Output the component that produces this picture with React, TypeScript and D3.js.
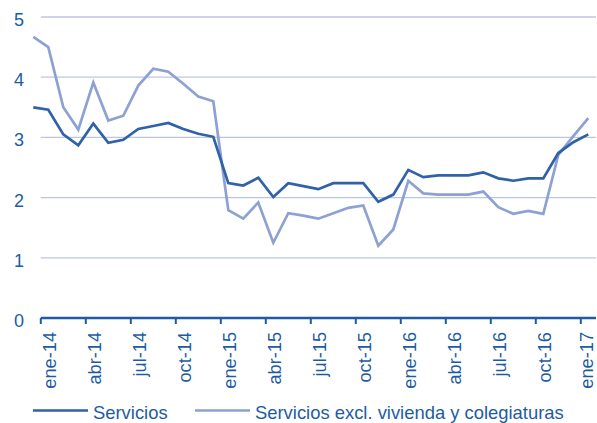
import React from "react";
import * as d3 from "d3";

const months = [
  "dic-13",
  "ene-14", "feb-14", "mar-14", "abr-14", "may-14", "jun-14", "jul-14", "ago-14", "sep-14", "oct-14", "nov-14", "dic-14",
  "ene-15", "feb-15", "mar-15", "abr-15", "may-15", "jun-15", "jul-15", "ago-15", "sep-15", "oct-15", "nov-15", "dic-15",
  "ene-16", "feb-16", "mar-16", "abr-16", "may-16", "jun-16", "jul-16", "ago-16", "sep-16", "oct-16", "nov-16", "dic-16",
  "ene-17",
];

const tickLabels = [
  "ene-14", "abr-14", "jul-14", "oct-14", "ene-15", "abr-15", "jul-15",
  "oct-15", "ene-16", "abr-16", "jul-16", "oct-16", "ene-17",
];

const yTicks = [0, 1, 2, 3, 4, 5];

const servicios = [
  3.5,
  3.46, 3.05, 2.87, 3.23, 2.91, 2.96, 3.14, 3.19, 3.24, 3.14, 3.06, 3.01,
  2.24, 2.2, 2.33, 2.01, 2.24, 2.19, 2.14, 2.24, 2.24, 2.24, 1.93, 2.05,
  2.46, 2.34, 2.37, 2.37, 2.37, 2.42, 2.32, 2.28, 2.32, 2.32, 2.74, 2.92,
  3.05,
];

const serviciosExcl = [
  4.67,
  4.5, 3.5, 3.13, 3.91, 3.28, 3.36, 3.86, 4.14, 4.09, 3.89, 3.68, 3.6,
  1.79, 1.65, 1.92, 1.25, 1.74, 1.7, 1.65, 1.74, 1.83, 1.87, 1.2, 1.47,
  2.28, 2.07, 2.05, 2.05, 2.05, 2.1, 1.84, 1.73, 1.78, 1.73, 2.71, 3.02,
  3.32,
];

const seriesNames = ["Servicios", "Servicios excl. vivienda y colegiaturas"];

const W = 597;
const H = 423;
const TEXT = "#1d5ca4";
const DARK = "#2f62a6";
const LIGHT = "#8da1d2";
const GRID = "#bcc6e4";
const FONT = "'Liberation Sans', Arial, Helvetica, sans-serif";

export default function App() {
  const x = d3.scaleBand<string>().domain(months).range([25.8, 595.8]).padding(0);
  const y = d3.scaleLinear().domain([0, 5]).range([318, 17]);
  const cx = (m: string) => (x(m) as number) + x.bandwidth() / 2;

  const line = d3
    .line<number>()
    .x((_, i) => cx(months[i]))
    .y((d) => y(d));

  const axisStart = x(tickLabels[0]) as number;
  const axisEnd = 596;

  return (
    <svg
      width={W}
      height={H}
      style={{ position: "absolute", left: 0, top: 0, background: "#fff" }}
      fontFamily={FONT}
    >
      {yTicks.filter((t) => t > 0).map((t) => (
        <line key={"g" + t} x1={axisStart} x2={axisEnd} y1={y(t)} y2={y(t)} stroke={GRID} strokeWidth={1.3} />
      ))}
      {yTicks.map((t) => (
        <text key={"y" + t} x={24} y={y(t) + 9} textAnchor="end" fontSize={18} fill={TEXT}>
          {t}
        </text>
      ))}
      <path d={line(serviciosExcl) || ""} fill="none" stroke={LIGHT} strokeWidth={2.7} strokeLinejoin="miter" />
      <path d={line(servicios) || ""} fill="none" stroke={DARK} strokeWidth={2.7} strokeLinejoin="miter" />
      <line x1={axisStart} x2={axisEnd} y1={y(0)} y2={y(0)} stroke={TEXT} strokeWidth={2.4} />
      {tickLabels.map((m) => {
        const tx = x(m) as number;
        const lx = Math.min(cx(m) + 8, W - 4.5);
        return (
          <g key={m}>
            <line x1={tx} x2={tx} y1={y(0)} y2={y(0) + 6} stroke={TEXT} strokeWidth={2} />
            <text
              transform={`translate(${lx},332) rotate(-90)`}
              textAnchor="end"
              fontSize={18.2}
              fill={TEXT}
            >
              {m}
            </text>
          </g>
        );
      })}
      <line x1={33} x2={88} y1={410.5} y2={410.5} stroke={DARK} strokeWidth={2.7} />
      <text x={93} y={419} fontSize={18.4} fill={TEXT}>{seriesNames[0]}</text>
      <line x1={195} x2={250} y1={410.5} y2={410.5} stroke={LIGHT} strokeWidth={2.7} />
      <text x={255} y={419} fontSize={18.4} fill={TEXT}>{seriesNames[1]}</text>
    </svg>
  );
}
